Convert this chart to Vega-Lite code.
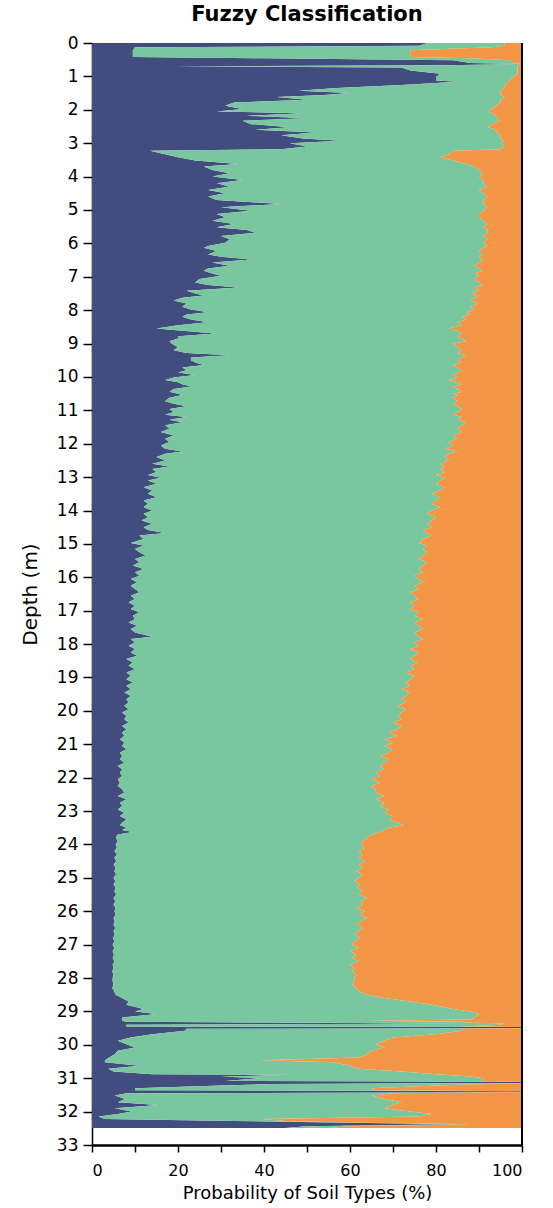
{
  "$schema": "https://vega.github.io/schema/vega-lite/v6.json",
  "width": 430,
  "height": 1102,
  "autosize": {"type": "none"},
  "padding": {"left": 92, "top": 43, "right": 31, "bottom": 63},
  "background": "white",
  "config": {
    "view": {"stroke": null},
    "font": "DejaVu Sans",
    "axis": {"grid": false, "domainColor": "#000000", "tickColor": "#000000", "labelColor": "#000000", "titleColor": "#000000", "labelFont": "DejaVu Sans", "titleFont": "DejaVu Sans", "titleFontWeight": "normal"}
  },
  "title": {"text": "Fuzzy Classification", "fontSize": 21, "fontWeight": "bold", "font": "DejaVu Sans", "color": "#000000", "offset": 9, "anchor": "middle"},
  "layer": [
    {
      "data": {"values": [
{"d":0.00,"a":78,"g":18,"o":4},{"d":0.08,"a":76,"g":20,"o":4},{"d":0.13,"a":10,"g":83,"o":7},{"d":0.22,"a":9.5,"g":64.5,"o":26},{"d":0.42,"a":9.5,"g":64.5,"o":26},{"d":0.46,"a":40,"g":48,"o":12},{"d":0.52,"a":84,"g":13,"o":3},{"d":0.60,"a":88,"g":10,"o":2},{"d":0.63,"a":99,"g":1,"o":0},{"d":0.67,"a":82,"g":17,"o":1},{"d":0.70,"a":19,"g":80,"o":1},{"d":0.73,"a":72,"g":27,"o":1},{"d":0.82,"a":74,"g":25,"o":1},{"d":0.92,"a":81,"g":18,"o":1},{"d":1.02,"a":80,"g":18,"o":2},{"d":1.12,"a":80,"g":17,"o":3},{"d":1.16,"a":85,"g":12,"o":3},{"d":1.25,"a":73,"g":23,"o":4},{"d":1.35,"a":57,"g":39,"o":4},{"d":1.43,"a":48,"g":47,"o":5},{"d":1.50,"a":60,"g":35,"o":5},{"d":1.56,"a":54,"g":41,"o":5},{"d":1.62,"a":43,"g":53,"o":4},{"d":1.70,"a":50,"g":45,"o":5},{"d":1.78,"a":33,"g":62,"o":5},{"d":1.88,"a":31,"g":63,"o":6},{"d":1.98,"a":35,"g":58,"o":7},{"d":2.05,"a":29,"g":63,"o":8},{"d":2.10,"a":49,"g":44,"o":7},{"d":2.18,"a":36,"g":58,"o":6},{"d":2.25,"a":50,"g":44,"o":6},{"d":2.33,"a":35,"g":60,"o":5},{"d":2.43,"a":37,"g":56,"o":7},{"d":2.52,"a":46,"g":46,"o":8},{"d":2.60,"a":38,"g":56,"o":6},{"d":2.68,"a":52,"g":42,"o":6},{"d":2.76,"a":44,"g":51,"o":5},{"d":2.86,"a":49,"g":46,"o":5},{"d":2.93,"a":58,"g":38,"o":4},{"d":3.00,"a":46,"g":49,"o":5},{"d":3.10,"a":50,"g":46,"o":4},{"d":3.18,"a":44,"g":51,"o":5},{"d":3.23,"a":13.5,"g":70.5,"o":16},{"d":3.33,"a":17,"g":66,"o":17},{"d":3.42,"a":20,"g":61,"o":19},{"d":3.52,"a":24,"g":60,"o":16},{"d":3.62,"a":34,"g":53,"o":13},{"d":3.70,"a":26,"g":63,"o":11},{"d":3.80,"a":28,"g":62,"o":10},{"d":3.90,"a":32,"g":59,"o":9},{"d":4.00,"a":28,"g":62,"o":10},{"d":4.10,"a":35,"g":56,"o":9},{"d":4.20,"a":29,"g":62,"o":9},{"d":4.30,"a":32,"g":60,"o":8},{"d":4.40,"a":27,"g":63,"o":10},{"d":4.50,"a":31,"g":60,"o":9},{"d":4.60,"a":27,"g":65,"o":8},{"d":4.70,"a":29,"g":62,"o":9},{"d":4.82,"a":44,"g":47,"o":9},{"d":4.92,"a":30,"g":62,"o":8},{"d":5.02,"a":37,"g":54,"o":9},{"d":5.12,"a":29,"g":61,"o":10},{"d":5.22,"a":31,"g":59,"o":10},{"d":5.32,"a":28,"g":63,"o":9},{"d":5.42,"a":33,"g":59,"o":8},{"d":5.52,"a":29,"g":62,"o":9},
{"d":5.60,"a":36,"g":56,"o":8},{"d":5.68,"a":38,"g":54,"o":8},{"d":5.78,"a":30,"g":61,"o":9},{"d":5.88,"a":32,"g":60,"o":8},{"d":5.98,"a":31,"g":60,"o":9},{"d":6.08,"a":27,"g":65,"o":8},{"d":6.13,"a":26,"g":65,"o":9},{"d":6.23,"a":29,"g":61,"o":10},{"d":6.33,"a":27,"g":64,"o":9},{"d":6.40,"a":30,"g":60,"o":10},{"d":6.48,"a":37,"g":54,"o":9},{"d":6.57,"a":28,"g":62,"o":10},{"d":6.67,"a":32,"g":57,"o":11},{"d":6.75,"a":27,"g":63,"o":10},{"d":6.82,"a":26,"g":65,"o":9},{"d":6.90,"a":28,"g":61,"o":11},{"d":6.97,"a":30,"g":60,"o":10},{"d":7.07,"a":25,"g":64,"o":11},{"d":7.17,"a":24,"g":66,"o":10},{"d":7.25,"a":27,"g":64,"o":9},{"d":7.32,"a":34,"g":55,"o":11},{"d":7.42,"a":22,"g":68,"o":10},{"d":7.50,"a":24,"g":64,"o":12},{"d":7.56,"a":26,"g":64,"o":10},{"d":7.63,"a":21,"g":68,"o":11},{"d":7.71,"a":19,"g":69,"o":12},{"d":7.80,"a":22,"g":68,"o":10},{"d":7.90,"a":21,"g":67,"o":12},{"d":7.98,"a":23,"g":66,"o":11},{"d":8.06,"a":27,"g":60,"o":13},{"d":8.13,"a":22,"g":66,"o":12},{"d":8.20,"a":21,"g":65,"o":14},{"d":8.28,"a":23,"g":64,"o":13},{"d":8.36,"a":27,"g":58,"o":15},{"d":8.45,"a":20,"g":66,"o":14},{"d":8.55,"a":15,"g":68,"o":17},{"d":8.62,"a":21,"g":64,"o":15},{"d":8.70,"a":28.6,"g":57.4,"o":14},{"d":8.78,"a":20,"g":65,"o":15},{"d":8.85,"a":20,"g":66,"o":14},{"d":8.93,"a":18,"g":69,"o":13},{"d":9.00,"a":18.5,"g":65.5,"o":16},{"d":9.10,"a":20,"g":65,"o":15},{"d":9.20,"a":19,"g":67,"o":14},{"d":9.28,"a":22,"g":63,"o":15},{"d":9.35,"a":32,"g":55,"o":13},{"d":9.42,"a":23,"g":63,"o":14},{"d":9.50,"a":23,"g":62,"o":15},{"d":9.57,"a":24,"g":62,"o":14},{"d":9.64,"a":26,"g":58,"o":16},{"d":9.72,"a":21,"g":64,"o":15},{"d":9.80,"a":22,"g":64,"o":14},{"d":9.87,"a":20,"g":65,"o":15},{"d":9.94,"a":24,"g":60,"o":16},{"d":10.02,"a":19,"g":66,"o":15},{"d":10.09,"a":17,"g":66,"o":17},{"d":10.16,"a":20,"g":65,"o":15},{"d":10.22,"a":21,"g":65,"o":14},{"d":10.29,"a":23,"g":61,"o":16},{"d":10.36,"a":19,"g":66,"o":15},{"d":10.44,"a":18,"g":68,"o":14},{"d":10.50,"a":20,"g":64,"o":16},{"d":10.54,"a":21,"g":64,"o":15},{"d":10.62,"a":18,"g":66,"o":16},{"d":10.73,"a":17,"g":68,"o":15},{"d":10.80,"a":19,"g":65,"o":16},{"d":10.88,"a":22,"g":63,"o":15},{"d":10.96,"a":18,"g":68,"o":14},{"d":11.05,"a":19,"g":66,"o":15},{"d":11.13,"a":17,"g":67,"o":16},
{"d":11.20,"a":22,"g":64,"o":14},{"d":11.28,"a":18,"g":67,"o":15},{"d":11.36,"a":21,"g":66,"o":13},{"d":11.45,"a":17,"g":69,"o":14},{"d":11.55,"a":18,"g":67,"o":15},{"d":11.65,"a":16,"g":70,"o":14},{"d":11.75,"a":19,"g":65,"o":16},{"d":11.85,"a":17,"g":68,"o":15},{"d":11.95,"a":18,"g":65,"o":17},{"d":12.05,"a":16,"g":68,"o":16},{"d":12.15,"a":17,"g":65,"o":18},{"d":12.23,"a":21,"g":64,"o":15},{"d":12.30,"a":17,"g":66,"o":17},{"d":12.40,"a":15,"g":67,"o":18},{"d":12.50,"a":17,"g":66,"o":17},{"d":12.60,"a":14,"g":67,"o":19},{"d":12.68,"a":18,"g":64,"o":18},{"d":12.76,"a":14,"g":67,"o":19},{"d":12.85,"a":15,"g":67,"o":18},{"d":12.94,"a":13,"g":67,"o":20},{"d":13.02,"a":16,"g":66,"o":18},{"d":13.10,"a":13,"g":68,"o":19},{"d":13.20,"a":15,"g":65,"o":20},{"d":13.30,"a":12,"g":70,"o":18},{"d":13.40,"a":14,"g":67,"o":19},{"d":13.50,"a":13,"g":66,"o":21},{"d":13.60,"a":15,"g":66,"o":19},{"d":13.70,"a":12,"g":68,"o":20},{"d":13.80,"a":13,"g":66,"o":21},{"d":13.90,"a":12,"g":69,"o":19},{"d":14.00,"a":14,"g":65,"o":21},{"d":14.10,"a":12,"g":66,"o":22},{"d":14.20,"a":13,"g":67,"o":20},{"d":14.30,"a":11.5,"g":67.5,"o":21},{"d":14.40,"a":14,"g":64,"o":22},{"d":14.50,"a":12,"g":67,"o":21},{"d":14.58,"a":13,"g":64,"o":23},{"d":14.67,"a":17,"g":61,"o":22},{"d":14.75,"a":11,"g":68,"o":21},{"d":14.85,"a":12,"g":65,"o":23},{"d":14.97,"a":9,"g":67,"o":24},{"d":15.05,"a":12,"g":66,"o":22},{"d":15.15,"a":10,"g":67,"o":23},{"d":15.25,"a":11,"g":67,"o":22},{"d":15.35,"a":12.5,"g":64.5,"o":23},{"d":15.45,"a":10,"g":66,"o":24},{"d":15.55,"a":11,"g":67,"o":22},{"d":15.65,"a":9.5,"g":67.5,"o":23},{"d":15.75,"a":12,"g":64,"o":24},{"d":15.85,"a":10,"g":67,"o":23},{"d":15.95,"a":11,"g":64,"o":25},{"d":16.05,"a":9,"g":67,"o":24},{"d":16.15,"a":10.5,"g":66.5,"o":23},{"d":16.25,"a":9,"g":66,"o":25},{"d":16.35,"a":10,"g":66,"o":24},{"d":16.45,"a":11,"g":63,"o":26},{"d":16.55,"a":9,"g":66,"o":25},{"d":16.65,"a":10,"g":66,"o":24},{"d":16.75,"a":8.5,"g":65.5,"o":26},
{"d":16.85,"a":10,"g":65,"o":25},{"d":16.95,"a":9,"g":65,"o":26},{"d":17.05,"a":11,"g":65,"o":24},{"d":17.15,"a":9.5,"g":65.5,"o":25},{"d":17.25,"a":10,"g":67,"o":23},{"d":17.35,"a":8.5,"g":66.5,"o":25},{"d":17.45,"a":10.5,"g":65.5,"o":24},{"d":17.55,"a":9,"g":68,"o":23},{"d":17.65,"a":10,"g":65,"o":25},{"d":17.78,"a":14,"g":62,"o":24},{"d":17.85,"a":9,"g":68,"o":23},{"d":17.95,"a":10,"g":65,"o":25},{"d":18.05,"a":8.5,"g":67.5,"o":24},{"d":18.15,"a":10,"g":64,"o":26},{"d":18.25,"a":9,"g":67,"o":24},{"d":18.35,"a":10.5,"g":64.5,"o":25},{"d":18.45,"a":8,"g":66,"o":26},{"d":18.55,"a":9.5,"g":66.5,"o":24},{"d":18.65,"a":8.5,"g":65.5,"o":26},{"d":18.75,"a":10,"g":65,"o":25},{"d":18.85,"a":8,"g":65,"o":27},{"d":18.95,"a":9,"g":66,"o":25},{"d":19.05,"a":8,"g":66,"o":26},{"d":19.15,"a":9.5,"g":63.5,"o":27},{"d":19.25,"a":8,"g":66,"o":26},{"d":19.35,"a":9,"g":63,"o":28},{"d":19.45,"a":7.5,"g":66.5,"o":26},{"d":19.55,"a":9,"g":64,"o":27},{"d":19.65,"a":8,"g":64,"o":28},{"d":19.75,"a":8.5,"g":64.5,"o":27},{"d":19.85,"a":7.5,"g":63.5,"o":29},{"d":19.95,"a":8.5,"g":64.5,"o":27},{"d":20.05,"a":7,"g":65,"o":28},{"d":20.15,"a":8,"g":63,"o":29},{"d":20.25,"a":7.5,"g":64.5,"o":28},{"d":20.35,"a":8.5,"g":61.5,"o":30},{"d":20.45,"a":7,"g":65,"o":28},{"d":20.55,"a":8,"g":63,"o":29},{"d":20.65,"a":7,"g":62,"o":31},{"d":20.75,"a":7.5,"g":63.5,"o":29},{"d":20.85,"a":6.5,"g":61.5,"o":32},{"d":20.95,"a":7.5,"g":62.5,"o":30},{"d":21.05,"a":7,"g":61,"o":32},{"d":21.15,"a":8,"g":62,"o":30},{"d":21.25,"a":6.5,"g":62.5,"o":31},{"d":21.35,"a":7,"g":60,"o":33},{"d":21.45,"a":6.5,"g":62.5,"o":31},{"d":21.55,"a":7.5,"g":60.5,"o":32},{"d":21.65,"a":6,"g":61,"o":33},{"d":21.75,"a":7,"g":61,"o":32},{"d":21.85,"a":6.5,"g":59.5,"o":34},{"d":21.95,"a":7,"g":60,"o":33},{"d":22.05,"a":6,"g":59,"o":35},{"d":22.15,"a":6.5,"g":60.5,"o":33},{"d":22.25,"a":6,"g":59,"o":35},{"d":22.35,"a":7,"g":59,"o":34},
{"d":22.45,"a":7.5,"g":58.5,"o":34},{"d":22.55,"a":6,"g":62,"o":32},{"d":22.65,"a":8,"g":58,"o":34},{"d":22.75,"a":6.5,"g":61.5,"o":32},{"d":22.85,"a":7,"g":60,"o":33},{"d":22.95,"a":6,"g":63,"o":31},{"d":23.05,"a":7.5,"g":60.5,"o":32},{"d":23.15,"a":6.5,"g":63.5,"o":30},{"d":23.25,"a":8,"g":61,"o":31},{"d":23.35,"a":7,"g":64,"o":29},{"d":23.42,"a":6.5,"g":66,"o":27.5},{"d":23.50,"a":8,"g":61,"o":31},{"d":23.57,"a":7,"g":61,"o":32},{"d":23.63,"a":9.5,"g":57.5,"o":33},{"d":23.70,"a":6,"g":59,"o":35},{"d":23.80,"a":5.5,"g":58.5,"o":36},{"d":23.90,"a":6,"g":57,"o":37},{"d":24.00,"a":5.5,"g":57,"o":37.5},{"d":24.10,"a":5.8,"g":57.7,"o":36.5},{"d":24.20,"a":5.2,"g":56.8,"o":38},{"d":24.30,"a":5.8,"g":57.2,"o":37},{"d":24.40,"a":5.2,"g":56.8,"o":38},{"d":24.50,"a":5.6,"g":57.9,"o":36.5},{"d":24.60,"a":5,"g":57,"o":38},{"d":24.70,"a":5.5,"g":57.5,"o":37},{"d":24.80,"a":5.2,"g":56.3,"o":38.5},{"d":24.90,"a":5.6,"g":57.4,"o":37},{"d":25.00,"a":5,"g":57,"o":38},{"d":25.10,"a":5.4,"g":55.6,"o":39},{"d":25.20,"a":5,"g":57.5,"o":37.5},{"d":25.30,"a":5.5,"g":56,"o":38.5},{"d":25.40,"a":5.2,"g":57.8,"o":37},{"d":25.50,"a":5.6,"g":56.4,"o":38},{"d":25.60,"a":5,"g":59,"o":36},{"d":25.70,"a":5.4,"g":57.1,"o":37.5},{"d":25.80,"a":5,"g":58,"o":37},{"d":25.90,"a":5.5,"g":56,"o":38.5},{"d":26.00,"a":5.2,"g":58.3,"o":36.5},{"d":26.10,"a":5.5,"g":56.5,"o":38},{"d":26.20,"a":5,"g":59,"o":36},{"d":26.30,"a":5.3,"g":57.2,"o":37.5},{"d":26.40,"a":5,"g":56.5,"o":38.5},{"d":26.50,"a":5.4,"g":57.6,"o":37},{"d":26.60,"a":5,"g":57,"o":38},{"d":26.70,"a":5.3,"g":55.7,"o":39},{"d":26.80,"a":4.9,"g":57.6,"o":37.5},{"d":26.90,"a":5.2,"g":55.8,"o":39},{"d":27.00,"a":4.8,"g":55.7,"o":39.5},{"d":27.10,"a":5.2,"g":56.8,"o":38},{"d":27.20,"a":4.8,"g":55.2,"o":40},{"d":27.30,"a":5.1,"g":56.4,"o":38.5},{"d":27.40,"a":4.8,"g":55.7,"o":39.5},{"d":27.50,"a":5.2,"g":56.8,"o":38},{"d":27.60,"a":4.8,"g":55.2,"o":40},{"d":27.70,"a":5,"g":56,"o":39},{"d":27.80,"a":4.7,"g":55.8,"o":39.5},{"d":27.90,"a":5,"g":56.5,"o":38.5},{"d":28.00,"a":4.8,"g":56.2,"o":39},
{"d":28.10,"a":4.8,"g":56.2,"o":39},{"d":28.20,"a":5,"g":55.5,"o":39.5},{"d":28.30,"a":4.7,"g":56.8,"o":38.5},{"d":28.40,"a":5.2,"g":56.8,"o":38},{"d":28.50,"a":5.5,"g":58.5,"o":36},{"d":28.60,"a":7,"g":61,"o":32},{"d":28.70,"a":8.5,"g":65.5,"o":26},{"d":28.80,"a":8,"g":71,"o":21},{"d":28.93,"a":12,"g":72,"o":16},{"d":29.00,"a":10,"g":78,"o":12},{"d":29.08,"a":15,"g":75,"o":10},{"d":29.18,"a":7,"g":82,"o":11},{"d":29.24,"a":7,"g":81,"o":12},{"d":29.28,"a":7,"g":57,"o":36},{"d":29.31,"a":8,"g":78,"o":14},{"d":29.33,"a":37,"g":50,"o":13},{"d":29.36,"a":86,"g":10,"o":4},{"d":29.40,"a":8,"g":87,"o":5},{"d":29.45,"a":8,"g":78,"o":14},{"d":29.47,"a":100,"g":0,"o":0},{"d":29.50,"a":100,"g":0,"o":0},{"d":29.52,"a":22,"g":64,"o":14},{"d":29.58,"a":21.6,"g":64.4,"o":14},{"d":29.68,"a":14,"g":66,"o":20},{"d":29.78,"a":9,"g":61,"o":30},{"d":29.88,"a":6,"g":62,"o":32},{"d":29.98,"a":8,"g":58,"o":34},{"d":30.08,"a":10,"g":58,"o":32},{"d":30.18,"a":6,"g":59,"o":35},{"d":30.28,"a":5.3,"g":58.7,"o":36},{"d":30.38,"a":4,"g":58,"o":38},{"d":30.46,"a":3,"g":36,"o":61},{"d":30.52,"a":3,"g":53,"o":44},{"d":30.63,"a":11,"g":49,"o":40},{"d":30.72,"a":3.8,"g":58.2,"o":38},{"d":30.80,"a":5,"g":67,"o":28},{"d":30.88,"a":14,"g":66,"o":20},{"d":30.90,"a":46,"g":36,"o":18},{"d":30.95,"a":30,"g":58,"o":12},{"d":31.00,"a":38.7,"g":52.3,"o":9},{"d":31.08,"a":31,"g":60,"o":9},{"d":31.11,"a":100,"g":0,"o":0},{"d":31.14,"a":100,"g":0,"o":0},{"d":31.17,"a":42,"g":50,"o":8},{"d":31.22,"a":30,"g":50,"o":20},{"d":31.30,"a":10,"g":55,"o":35},{"d":31.36,"a":10,"g":56,"o":34},{"d":31.39,"a":100,"g":0,"o":0},{"d":31.42,"a":100,"g":0,"o":0},{"d":31.45,"a":8,"g":62,"o":30},{"d":31.52,"a":5.3,"g":59.7,"o":35},{"d":31.62,"a":7.7,"g":60.3,"o":32},{"d":31.72,"a":6,"g":66,"o":28},{"d":31.80,"a":15.4,"g":54.6,"o":30},{"d":31.90,"a":5.3,"g":62.7,"o":32},{"d":32.00,"a":9.2,"g":64.8,"o":26},{"d":32.07,"a":6,"g":73,"o":21},{"d":32.15,"a":1.5,"g":74.5,"o":24},{"d":32.22,"a":3,"g":36.5,"o":60.5},{"d":32.28,"a":33,"g":12,"o":55},{"d":32.33,"a":60,"g":2,"o":38},{"d":32.38,"a":84,"g":4,"o":12},{"d":32.44,"a":50,"g":10,"o":40},{"d":32.49,"a":45,"g":10,"o":45}
      ]},
      "transform": [{"fold": ["a", "g", "o"], "as": ["type", "p"]}],
      "mark": {"type": "area", "orient": "horizontal", "interpolate": "linear"},
      "encoding": {
        "y": {"field": "d", "type": "quantitative",
          "scale": {"domain": [0, 33], "reverse": true, "nice": false, "zero": false},
          "axis": {"title": "Depth (m)", "values": [0,1,2,3,4,5,6,7,8,9,10,11,12,13,14,15,16,17,18,19,20,21,22,23,24,25,26,27,28,29,30,31,32,33], "labelFontSize": 17, "titleFontSize": 20, "tickSize": 9, "labelPadding": 5, "titlePadding": 16, "domainWidth": 1.5, "tickWidth": 1.5}},
        "x": {"field": "p", "type": "quantitative", "stack": "zero",
          "scale": {"domain": [0, 100], "nice": false},
          "axis": {"title": "Probability of Soil Types (%)", "values": [0,10,20,30,40,50,60,70,80,90,100], "labelExpr": "datum.value % 20 === 0 ? datum.label : ''", "labelFontSize": 16, "titleFontSize": 18, "tickSize": 7, "labelPadding": 10, "titlePadding": 6, "domainWidth": 2.5, "tickWidth": 1.5}},
        "color": {"field": "type", "type": "nominal",
          "scale": {"domain": ["a", "g", "o"], "range": ["#434c7e", "#79c79e", "#f39747"]},
          "legend": null}
      }
    },
    {
      "data": {"values": [{"edge": 100}]},
      "mark": {"type": "rule", "color": "#000000", "strokeWidth": 2},
      "encoding": {"x": {"field": "edge", "type": "quantitative"}}
    }
  ]
}
